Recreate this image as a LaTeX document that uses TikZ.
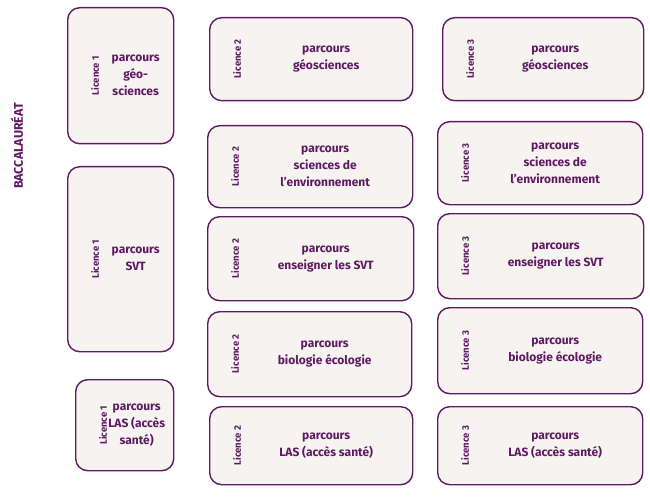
\documentclass[tikz,border=0pt]{standalone}
\usepackage{fontspec}
\setmainfont{Fira Sans}
\usetikzlibrary{positioning}
\definecolor{prune}{HTML}{5E1B63}
\definecolor{creme}{HTML}{F7F3F1}
\tikzset{
	box/.style={draw=prune, fill=creme, line width=1.4pt, rounded corners=12pt, anchor=north west, inner sep=0pt},
	lic/.style={rotate=90, text=prune, font=\fontsize{9.5}{11}\selectfont\bfseries},
	txt/.style={text=prune, align=center, font=\fontsize{12}{17}\selectfont\bfseries}
}
% #1 name, #2 x, #3 y, #4 width, #5 height, #6 licence, #7 text, #8 text offset
\newcommand{\cursus}[8]{
	\node[box, minimum width=#4pt, minimum height=#5pt] (#1) at (#2,#3) {};
	\node[lic, right=28pt of #1.west, anchor=center] (#1-lic) {#6};
	\node[txt] (#1-txt) at ([xshift=#8pt]#1.center) {#7};
}
\begin{document}
\begin{tikzpicture}[x=1pt, y=-1pt]
	\useasboundingbox (0,0) rectangle (650,497);

	\node[rotate=90, text=prune, font=\fontsize{12.5}{14}\selectfont\bfseries] (bac) at (17,146) {BACCALAURÉAT};

	% licence 1
	\cursus{ageo}{67}{7}{106}{136}{Licence 1}{parcours\\géo-\\sciences}{15}
	\cursus{asvt}{67}{166}{106}{185}{Licence 1}{parcours\\SVT}{15}
	\cursus{alas}{75}{379}{98}{91}{Licence 1}{parcours\\LAS (accès\\santé)}{12}

	% licence 2
	\cursus{bgeo}{209}{17}{203}{83}{Licence 2}{parcours\\géosciences}{15}
	\cursus{benv}{207}{125}{205}{82}{Licence 2}{parcours\\sciences de\\l’environnement}{15}
	\cursus{bsvt}{207}{216}{206}{84}{Licence 2}{parcours\\enseigner les SVT}{15}
	\cursus{bbio}{207}{311}{204}{85}{Licence 2}{parcours\\biologie écologie}{15}
	\cursus{blas}{209}{406}{203}{78}{Licence 2}{parcours\\LAS (accès santé)}{15}

	% licence 3
	\cursus{cgeo}{442}{17}{201}{83}{Licence 3}{parcours\\géosciences}{12}
	\cursus{cenv}{437}{121}{205}{83}{Licence 3}{parcours\\sciences de\\l’environnement}{15}
	\cursus{csvt}{437}{213}{206}{85}{Licence 3}{parcours\\enseigner les SVT}{15}
	\cursus{cbio}{437}{307}{205}{86}{Licence 3}{parcours\\biologie écologie}{15}
	\cursus{clas}{437}{406}{205}{78}{Licence 3}{parcours\\LAS (accès santé)}{15}
\end{tikzpicture}
\end{document}
